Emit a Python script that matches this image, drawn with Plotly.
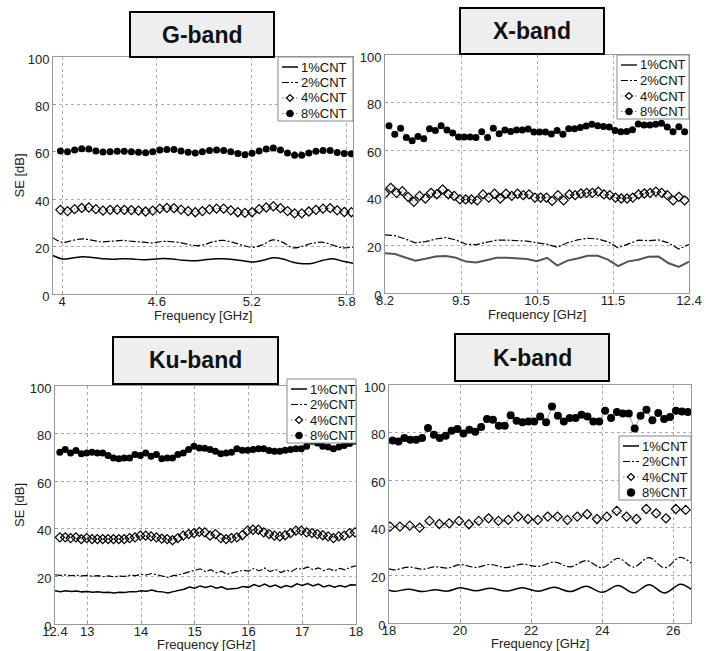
import numpy as np
import plotly.graph_objects as go

# ---------------- DATA ----------------
# G-band
g_freq_line = np.linspace(3.94, 5.84, 31)
g_1 = [16.3, 14.8, 15.2, 15.7, 15.4, 14.9, 14.7, 14.9, 14.8, 14.4, 14.7, 15.0, 14.8, 14.2, 14.0, 14.3,
       14.8, 14.9, 14.6, 14.0, 13.5, 14.2, 15.3, 14.8, 13.4, 12.8, 13.0, 14.2, 14.9, 13.8, 13.0]
g_2 = [23.8, 21.8, 22.6, 23.3, 22.6, 22.0, 22.3, 22.6, 22.2, 21.9, 21.6, 22.2, 22.0, 21.5, 20.5, 20.7,
       22.0, 22.6, 21.8, 20.5, 19.7, 20.8, 22.8, 21.8, 19.5, 20.2, 21.5, 21.8, 20.6, 19.5, 19.8]
g_freq_mk = np.linspace(3.99, 5.83, 42)
g_4 = [35.5, 35.0, 35.8, 36.3, 36.5, 35.8, 35.2, 35.5, 35.6, 35.5, 35.4, 35.2, 34.8, 35.2, 36.0, 36.3,
       36.2, 35.6, 35.0, 34.5, 35.0, 35.7, 36.0, 36.0, 35.3, 34.5, 34.2, 34.5, 35.8, 36.5, 37.0, 36.2,
       35.0, 34.0, 34.0, 34.8, 35.5, 36.0, 36.2, 35.3, 34.6, 34.5]
g_8 = [60.3, 60.0, 60.8, 61.3, 61.2, 60.3, 59.9, 60.0, 60.2, 60.2, 60.0, 59.8, 59.6, 60.0, 60.8, 61.0,
       61.0, 60.3, 59.8, 59.5, 60.0, 60.6, 60.8, 60.6, 60.0, 59.3, 58.8, 59.4, 60.3, 61.2, 61.6, 60.8,
       59.5, 58.5, 58.5, 59.5, 60.2, 60.6, 60.5, 59.7, 59.3, 59.2]

# X-band
x_freq_line = np.linspace(8.2, 12.4, 31)
x_1 = [16.7, 16.4, 14.9, 13.6, 14.4, 15.3, 15.5, 14.8, 13.2, 12.8, 13.8, 14.8, 14.8, 14.6, 14.3, 13.4,
       14.8, 11.5, 13.6, 14.5, 15.6, 15.6, 14.0, 11.3, 13.3, 14.0, 15.2, 15.3, 12.5, 11.0, 13.2]
x_2 = [24.4, 24.1, 22.7, 21.1, 21.6, 22.7, 23.3, 22.3, 20.5, 20.3, 21.3, 22.2, 22.2, 22.1, 21.8, 21.1,
       20.5, 19.2, 21.1, 22.3, 23.0, 22.7, 21.5, 19.0, 20.5, 22.2, 22.0, 22.3, 21.0, 18.5, 20.4]
x_freq_4 = np.linspace(8.2, 12.34, 53)
x_4 = [41.8, 44.2, 42.1, 42.8, 40.4, 38.3, 40.8, 39.7, 42.1, 41.5, 43.5, 41.5, 40.8, 39.3, 39.3, 39.3,
       38.9, 41.4, 40.1, 41.7, 39.7, 41.7, 40.8, 41.7, 41.1, 41.4, 40.1, 40.1, 40.1, 38.7, 41.1, 38.9,
       41.4, 41.1, 41.8, 42.1, 42.1, 42.6, 41.4, 41.1, 40.1, 39.7, 39.7, 40.1, 41.4, 41.8, 42.1, 42.6,
       42.1, 41.1, 38.9, 40.4, 38.9]
x_freq_8 = np.linspace(8.255, 12.34, 52)
x_8 = [70.3, 66.7, 69.2, 65.3, 64.0, 65.8, 64.8, 69.0, 68.3, 70.3, 68.5, 67.2, 65.5, 65.5, 65.5, 65.3,
       67.8, 65.3, 69.2, 66.9, 68.5, 67.9, 68.5, 68.5, 68.9, 67.6, 67.6, 67.6, 66.8, 68.3, 66.7, 69.0,
       69.0, 69.5, 70.2, 70.9, 70.3, 70.0, 69.7, 68.3, 67.8, 67.9, 68.6, 71.0, 70.6, 70.6, 70.9, 71.3,
       69.7, 67.8, 69.9, 67.8]
x_tickvals = [8.2, 9.25, 10.3, 11.35, 12.4]
x_ticktext = ["8.2", "9.5", "10.5", "11.5", "12.4"]

# Ku-band
ku_freq_line = np.linspace(12.4, 18.0, 57)
ku_1 = [14.0, 13.6, 14.0, 13.7, 13.9, 13.5, 13.7, 13.3, 13.5, 13.2, 13.3, 13.0, 13.3, 13.2, 13.6, 13.5,
        14.0, 13.8, 14.3, 13.7, 13.5, 13.0, 13.6, 14.0, 14.6, 15.5, 15.0, 16.0, 15.4, 16.0, 15.0, 15.6,
        14.6, 14.8, 15.0, 15.8, 15.4, 16.6, 15.8, 16.8, 15.7, 16.4, 15.3, 16.2, 15.6, 16.9, 16.2, 17.0,
        16.0, 16.8, 15.6, 16.3, 15.5, 16.2, 15.6, 16.5, 16.4]
ku_2 = [20.7, 20.4, 20.6, 20.3, 20.5, 20.2, 20.4, 20.1, 20.3, 19.9, 20.2, 19.8, 20.1, 20.0, 20.5, 20.3,
        20.8, 20.6, 21.2, 20.6, 20.2, 19.6, 20.3, 20.6, 21.3, 21.9, 22.6, 23.2, 22.0, 22.8, 21.5, 22.2,
        20.9, 21.4, 21.9, 22.6, 22.2, 23.3, 22.3, 23.5, 22.0, 22.9, 21.6, 22.6, 22.1, 23.4, 23.0, 24.0,
        22.8, 23.6, 22.4, 23.2, 22.3, 23.4, 22.8, 23.9, 24.4]
ku_freq_mk = np.linspace(12.49, 17.98, 56)
ku_4 = [36.4, 36.4, 36.1, 36.4, 35.7, 36.1, 35.7, 35.7, 35.7, 35.7, 35.7, 35.7, 35.7, 36.1, 36.4, 37.1,
        37.1, 36.8, 36.4, 35.9, 35.7, 35.2, 36.1, 37.1, 37.8, 38.2, 38.7, 38.5, 37.1, 37.8, 36.1, 35.7,
        36.1, 36.4, 37.3, 39.2, 39.6, 39.6, 38.5, 37.8, 37.1, 36.8, 37.3, 38.2, 39.2, 39.2, 38.5, 38.2,
        37.8, 37.3, 36.8, 36.1, 36.8, 37.1, 38.2, 38.5]
ku_8 = [72.2, 73.3, 71.9, 72.9, 71.5, 71.9, 72.2, 71.9, 71.9, 70.8, 69.8, 69.4, 69.8, 69.8, 71.2, 70.8,
        71.9, 70.5, 71.2, 69.4, 69.8, 69.8, 71.2, 71.9, 73.3, 74.7, 74.0, 73.8, 73.3, 72.6, 71.5, 71.9,
        72.2, 73.6, 73.0, 73.0, 73.3, 73.6, 73.6, 72.9, 72.6, 72.6, 73.0, 73.3, 73.6, 73.6, 74.7, 76.8,
        76.1, 74.7, 74.4, 73.6, 74.4, 75.0, 75.8, 76.8]

# K-band (smooth lines given at their turning points)
k_freq_line = [18.0, 18.15, 18.55, 18.95, 19.3, 19.65, 20.0, 20.45, 20.85, 21.3, 21.75, 22.2, 22.65,
               23.1, 23.55, 24.0, 24.45, 24.88, 25.32, 25.76, 26.2, 26.5]
k_1 = [13.8, 13.3, 14.2, 13.2, 14.0, 13.4, 14.8, 13.5, 14.6, 13.4, 14.8, 13.3, 15.0, 13.2, 15.4, 12.9,
       15.8, 12.7, 16.1, 12.6, 16.3, 14.2]
k_2 = [22.8, 22.3, 23.5, 22.6, 23.6, 23.1, 24.5, 23.4, 24.6, 23.3, 24.7, 23.8, 25.6, 23.6, 26.2, 23.2,
       27.2, 23.5, 27.5, 23.2, 27.6, 25.2]
k_freq_4 = np.linspace(18.03, 26.35, 31)
k_4 = [40.5, 40.5, 40.9, 40.1, 42.9, 41.6, 41.9, 42.9, 41.5, 42.9, 44.0, 42.9, 43.3, 44.7, 43.7, 43.3,
       44.7, 44.7, 43.3, 44.7, 45.7, 43.7, 44.7, 47.1, 44.7, 43.7, 47.9, 46.1, 44.0, 47.9, 47.5]
k_freq_8 = np.linspace(18.10, 26.41, 51)
k_8 = [76.7, 76.3, 77.7, 77.0, 77.0, 77.7, 81.9, 79.1, 77.7, 78.7, 80.8, 81.5, 79.6, 81.2, 80.4, 82.4,
       85.7, 85.4, 82.9, 82.9, 87.3, 85.0, 84.3, 84.7, 84.7, 86.8, 84.3, 91.0, 87.1, 84.7, 86.1, 86.1,
       87.5, 86.8, 84.7, 84.7, 89.2, 86.1, 88.7, 88.0, 88.0, 81.7, 87.1, 89.6, 85.2, 88.2, 85.7, 86.6,
       89.2, 88.9, 88.7]

labels = ["1%CNT", "2%CNT", "4%CNT", "8%CNT"]
y_ticks = [0, 20, 40, 60, 80, 100]

# ---------------- FIGURE ----------------
W, H = 706, 651
FONT = "Arial, Liberation Sans, sans-serif"
DASHDOT = "7px,2px,2px,2px"
DOT = "1.5px,2px"


def px(x):
    return x / W


def py(y):
    return 1 - y / H


fig = go.Figure()


def add_lines(xs, y1, y2, xa, ya, shape, c1="black", w1=1.5):
    fig.add_trace(go.Scatter(x=xs, y=y1, mode="lines", name=labels[0], showlegend=False,
                             line=dict(color=c1, width=w1, shape=shape), xaxis=xa, yaxis=ya))
    fig.add_trace(go.Scatter(x=xs, y=y2, mode="lines", name=labels[1], showlegend=False,
                             line=dict(color="black", width=1.2, dash=DASHDOT, shape=shape),
                             xaxis=xa, yaxis=ya))


def add_markers(x4, y4, x8, y8, xa, ya, k_style=False):
    fig.add_trace(go.Scatter(x=x4, y=y4, mode="lines+markers", name=labels[2], showlegend=False,
                             line=dict(color="#777", width=1, dash=DOT),
                             marker=dict(symbol="diamond-open", size=7, color="black", line=dict(width=1.2)),
                             xaxis=xa, yaxis=ya))
    if k_style:
        fig.add_trace(go.Scatter(x=x8, y=y8, mode="lines", showlegend=False,
                                 line=dict(color="#999", width=1), xaxis=xa, yaxis=ya))
        fig.add_trace(go.Scatter(x=x8, y=y8, mode="markers", name=labels[3], showlegend=False,
                                 marker=dict(symbol="circle", size=8, color="black"),
                                 xaxis=xa, yaxis=ya))
    else:
        fig.add_trace(go.Scatter(x=x8, y=y8, mode="lines+markers", name=labels[3], showlegend=False,
                                 line=dict(color="#777", width=1, dash=DOT),
                                 marker=dict(symbol="circle", size=7, color="black"),
                                 xaxis=xa, yaxis=ya))


# G-band
add_lines(g_freq_line, g_1, g_2, "x", "y", "spline")
add_markers(g_freq_mk, g_4, g_freq_mk, g_8, "x", "y")
# X-band
add_lines(x_freq_line, x_1, x_2, "x2", "y2", "linear", c1="#555", w1=2)
add_markers(x_freq_4, x_4, x_freq_8, x_8, "x2", "y2")
# Ku-band
add_lines(ku_freq_line, ku_1, ku_2, "x3", "y3", "linear")
add_markers(ku_freq_mk, ku_4, ku_freq_mk, ku_8, "x3", "y3")
# K-band
add_lines(k_freq_line, k_1, k_2, "x4", "y4", "spline")
add_markers(k_freq_4, k_4, k_freq_8, k_8, "x4", "y4", k_style=True)

axis_common = dict(showline=True, mirror=True, linecolor="#999", linewidth=1, automargin=False,
                   showgrid=True, gridcolor="#aaa", griddash="dot", gridwidth=1,
                   ticks="inside", ticklen=3, tickcolor="#999",
                   tickfont=dict(family=FONT, size=13, color="#222"), zeroline=False)

panels = {
    "1": ((53, 353), (57, 294), [3.943, 5.84], dict(tickvals=[4, 4.6, 5.2, 5.8], ticktext=["4", "4.6", "5.2", "5.8"])),
    "2": ((385, 689), (55, 293), [8.2, 12.4], dict(tickvals=x_tickvals, ticktext=x_ticktext)),
    "3": ((55, 356), (386, 624), [12.4, 18.0], dict(tickvals=[12.4, 13, 14, 15, 16, 17, 18],
                                                   ticktext=["12.4", "13", "14", "15", "16", "17", "18"])),
    "4": ((389, 691), (385, 623), [18, 26.5], dict(tickvals=[18, 20, 22, 24, 26], ticktext=["18", "20", "22", "24", "26"])),
}

layout = dict(width=W, height=H, margin=dict(l=0, r=0, t=0, b=0, pad=0, autoexpand=False),
              showlegend=False, template="none",
              paper_bgcolor="white", plot_bgcolor="white",
              font=dict(family=FONT, size=13, color="#222"))

annotations = []
shapes = []

for k, (xr, yr, rng, tk) in panels.items():
    xn = "xaxis" if k == "1" else "xaxis" + k
    yn = "yaxis" if k == "1" else "yaxis" + k
    ax_id = "x" if k == "1" else "x" + k
    ay_id = "y" if k == "1" else "y" + k
    layout[xn] = dict(axis_common, domain=[px(xr[0]), px(xr[1])], range=rng, anchor=ay_id,
                      tickmode="array", ticklabelstandoff=-5, **tk)
    layout[yn] = dict(axis_common, domain=[py(yr[1]), py(yr[0])], range=[0, 100], anchor=ax_id,
                      tickmode="array", tickvals=y_ticks, ticklabelshift=2)
    # x-axis title
    title_off = 21 if k in ("1", "2") else 20
    annotations.append(dict(text="Frequency [GHz]", xref="paper", yref="paper",
                            x=px((xr[0] + xr[1]) / 2), y=py(yr[1] + title_off), showarrow=False,
                            xanchor="center", yanchor="middle",
                            font=dict(family=FONT, size=13, color="#222")))
    if k in ("1", "3"):
        annotations.append(dict(text="SE [dB]", xref="paper", yref="paper", textangle=-90,
                                x=px(19), y=py((yr[0] + yr[1]) / 2), showarrow=False,
                                xanchor="center", yanchor="middle",
                                font=dict(family=FONT, size=13, color="#222")))

# Title boxes
boxes = [("G-band", 130, 274, 12, 57), ("X-band", 460, 604, 8, 54),
         ("Ku-band", 113, 278, 337, 384), ("K-band", 455, 609, 334, 381)]
for txt, x0, x1, y0, y1 in boxes:
    shapes.append(dict(type="rect", xref="paper", yref="paper", x0=px(x0), x1=px(x1), y0=py(y1), y1=py(y0),
                       fillcolor="#eeeeee", line=dict(color="black", width=2), layer="above"))
    annotations.append(dict(text="<b>%s</b>" % txt, xref="paper", yref="paper", x=px((x0 + x1) / 2),
                            y=py((y0 + y1) / 2), showarrow=False, xanchor="center", yanchor="middle",
                            font=dict(family=FONT, size=23, color="#111")))

# Legends (box left, box top, box right, colour/width of 1% line, K-style 8% key)
legends = [(278, 57, 353, "black", 1.5, False), (617, 55, 689, "#555", 2, False),
           (287, 379, 356, "black", 1.5, False), (619, 436, 691, "black", 1.5, True)]
ROW = 15.5
for lx0, ly0, lx1, c1, w1, kst in legends:
    shapes.append(dict(type="rect", xref="paper", yref="paper", x0=px(lx0), x1=px(lx1),
                       y0=py(ly0 + 64), y1=py(ly0), fillcolor="white",
                       line=dict(color="#888", width=1), layer="above"))
    for i, lab in enumerate(labels):
        cy = ly0 + 10 + ROW * i
        sx0, sx1, cx = lx0 + 4, lx0 + 20, lx0 + 12
        if i == 0:
            shapes.append(dict(type="line", xref="paper", yref="paper", x0=px(sx0), x1=px(sx1),
                               y0=py(cy), y1=py(cy), line=dict(color=c1, width=w1), layer="above"))
        elif i == 1:
            shapes.append(dict(type="line", xref="paper", yref="paper", x0=px(sx0), x1=px(sx1),
                               y0=py(cy), y1=py(cy), line=dict(color="black", width=1.2, dash=DASHDOT),
                               layer="above"))
        else:
            if not (i == 3 and kst):
                shapes.append(dict(type="line", xref="paper", yref="paper", x0=px(sx0), x1=px(sx1),
                                   y0=py(cy), y1=py(cy), line=dict(color="#777", width=1, dash=DOT),
                                   layer="above"))
            if i == 2:
                d = 3.5
                path = "M %f,%f L %f,%f L %f,%f L %f,%f Z" % (px(cx - d), py(cy), px(cx), py(cy - d),
                                                              px(cx + d), py(cy), px(cx), py(cy + d))
                shapes.append(dict(type="path", xref="paper", yref="paper", path=path,
                                   fillcolor="white", line=dict(color="black", width=1.2), layer="above"))
            else:
                r = 4 if kst else 3.5
                shapes.append(dict(type="circle", xref="paper", yref="paper", x0=px(cx - r), x1=px(cx + r),
                                   y0=py(cy + r), y1=py(cy - r), fillcolor="black",
                                   line=dict(color="black", width=0.5), layer="above"))
        annotations.append(dict(text=lab, xref="paper", yref="paper", x=px(lx0 + 21), y=py(cy),
                                xanchor="left", yanchor="middle", showarrow=False,
                                font=dict(family=FONT, size=13, color="#111")))

layout["annotations"] = annotations
layout["shapes"] = shapes
fig.update_layout(**layout)

fig.write_html("out.html")
